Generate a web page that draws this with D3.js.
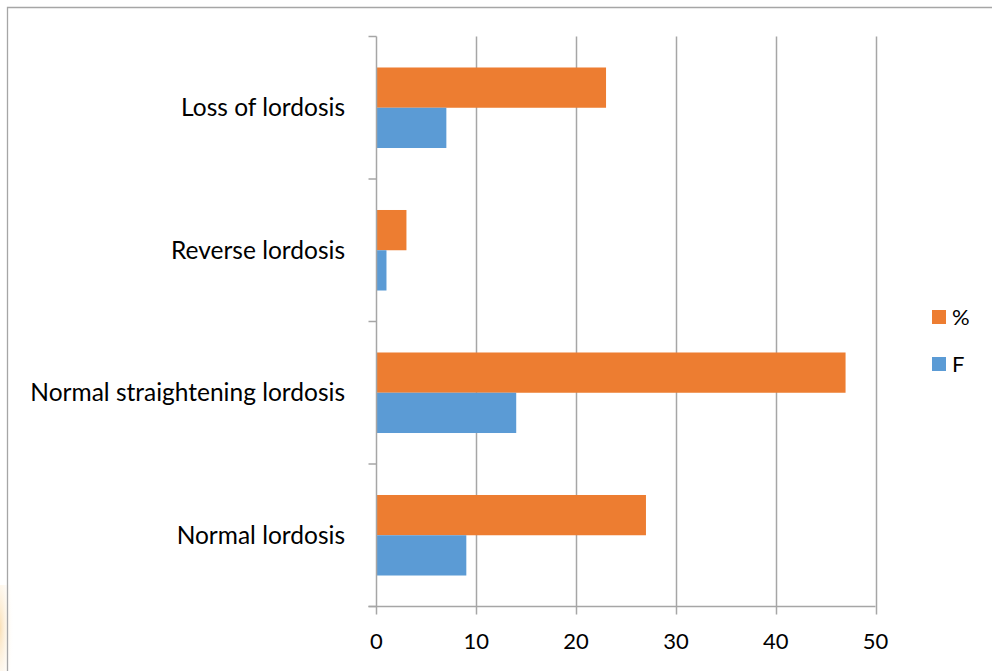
<!DOCTYPE html>
<html>
<head>
<meta charset="utf-8">
<script src="https://cdn.jsdelivr.net/npm/d3@7"></script>
<style>
  html, body { margin: 0; padding: 0; background: #fff; }
  svg { display: block; font-family: Lato, "Open Sans", sans-serif; }
</style>
</head>
<body>
<svg id="chart" width="992" height="671"></svg>
<script>
// Categories listed bottom-to-top as they appear on the vertical axis
const categories = ["Normal lordosis", "Normal straightening lordosis", "Reverse lordosis", "Loss of lordosis"];
const seriesNames = ["%", "F"];
const percentValues = [27, 47, 3, 23];
const freqValues = [9, 14, 1, 7];
const xTicks = [0, 10, 20, 30, 40, 50];
const colors = { "%": "#ED7D31", "F": "#5B9BD5" };

const svg = d3.select("#chart");

// soft tint along the lower-left edge of the page
const defs = svg.append("defs");
const g1 = defs.append("radialGradient").attr("id", "tint").attr("cx", "0").attr("cy", "0.5").attr("r", "1");
g1.append("stop").attr("offset", "0").attr("stop-color", "#f9dcae").attr("stop-opacity", 0.9);
g1.append("stop").attr("offset", "1").attr("stop-color", "#fff").attr("stop-opacity", 0);
svg.append("rect").attr("x", 0).attr("y", 585).attr("width", 14).attr("height", 86).attr("fill", "url(#tint)");

// chart frame
svg.append("path")
  .attr("d", "M7.5,671 V7.5 H992")
  .attr("fill", "none").attr("stroke", "#a6a6a6").attr("stroke-width", 1.3);

const plotL = 376.5, plotR = 875.5, plotT = 36.5, plotB = 606.5;

const x = d3.scaleLinear().domain([0, 50]).range([plotL, plotR]);
const yBand = d3.scaleBand().domain(categories.slice().reverse()).range([plotT, plotB]).paddingInner(0.435).paddingOuter(0.2175);
const ySub = d3.scaleBand().domain(seriesNames).range([0, yBand.bandwidth()]);

// vertical gridlines with tick marks below the axis
const gridG = svg.append("g");
gridG.selectAll("line").data(xTicks.slice(1)).join("line")
  .attr("x1", d => Math.round(x(d)) + 0.5).attr("x2", d => Math.round(x(d)) + 0.5)
  .attr("y1", plotT).attr("y2", plotB + 8)
  .attr("stroke", "#a6a6a6").attr("stroke-width", 1.5);

// bars
const rows = categories.map((c, i) => ({ cat: c, vals: [
  { key: "%", v: percentValues[i] },
  { key: "F", v: freqValues[i] }
]}));
const rowG = svg.append("g").selectAll("g").data(rows).join("g")
  .attr("transform", d => `translate(0,${yBand(d.cat)})`);
rowG.selectAll("rect").data(d => d.vals).join("rect")
  .attr("x", x(0))
  .attr("y", d => ySub(d.key))
  .attr("width", d => x(d.v) - x(0))
  .attr("height", ySub.bandwidth())
  .attr("fill", d => colors[d.key]);

// category axis (vertical) with tick marks between categories
const catStep = (plotB - plotT) / categories.length;
const axisG = svg.append("g");
axisG.append("line").attr("x1", plotL).attr("x2", plotL).attr("y1", plotT).attr("y2", plotB + 8)
  .attr("stroke", "#a6a6a6").attr("stroke-width", 1.5);
axisG.selectAll("line.tk").data(d3.range(categories.length + 1)).join("line").attr("class", "tk")
  .attr("x1", plotL - 8).attr("x2", plotL)
  .attr("y1", i => plotT + i * catStep).attr("y2", i => plotT + i * catStep)
  .attr("stroke", "#a6a6a6").attr("stroke-width", 1.5);

// value axis (horizontal)
axisG.append("line").attr("x1", plotL - 8).attr("x2", plotR).attr("y1", plotB).attr("y2", plotB)
  .attr("stroke", "#a6a6a6").attr("stroke-width", 1.5);

// category labels
svg.append("g").selectAll("text").data(categories).join("text")
  .attr("x", 345).attr("y", d => yBand(d) + yBand.bandwidth() / 2 - 1)
  .attr("text-anchor", "end").attr("dominant-baseline", "central")
  .attr("font-size", 24.5).attr("fill", "#000")
  .text(d => d);

// value tick labels
svg.append("g").selectAll("text").data(xTicks).join("text")
  .attr("x", d => x(d)).attr("y", 640)
  .attr("text-anchor", "middle").attr("dominant-baseline", "central")
  .attr("font-size", 22).attr("fill", "#000")
  .text(d => d);

// legend
const legend = svg.append("g").selectAll("g").data(seriesNames).join("g")
  .attr("transform", (d, i) => `translate(932,${310 + i * 47})`);
legend.append("rect").attr("width", 14).attr("height", 14).attr("fill", d => colors[d]);
legend.append("text").attr("x", 20).attr("y", 6).attr("dominant-baseline", "central")
  .attr("font-size", 22).attr("fill", "#000").text(d => d);
</script>
</body>
</html>
